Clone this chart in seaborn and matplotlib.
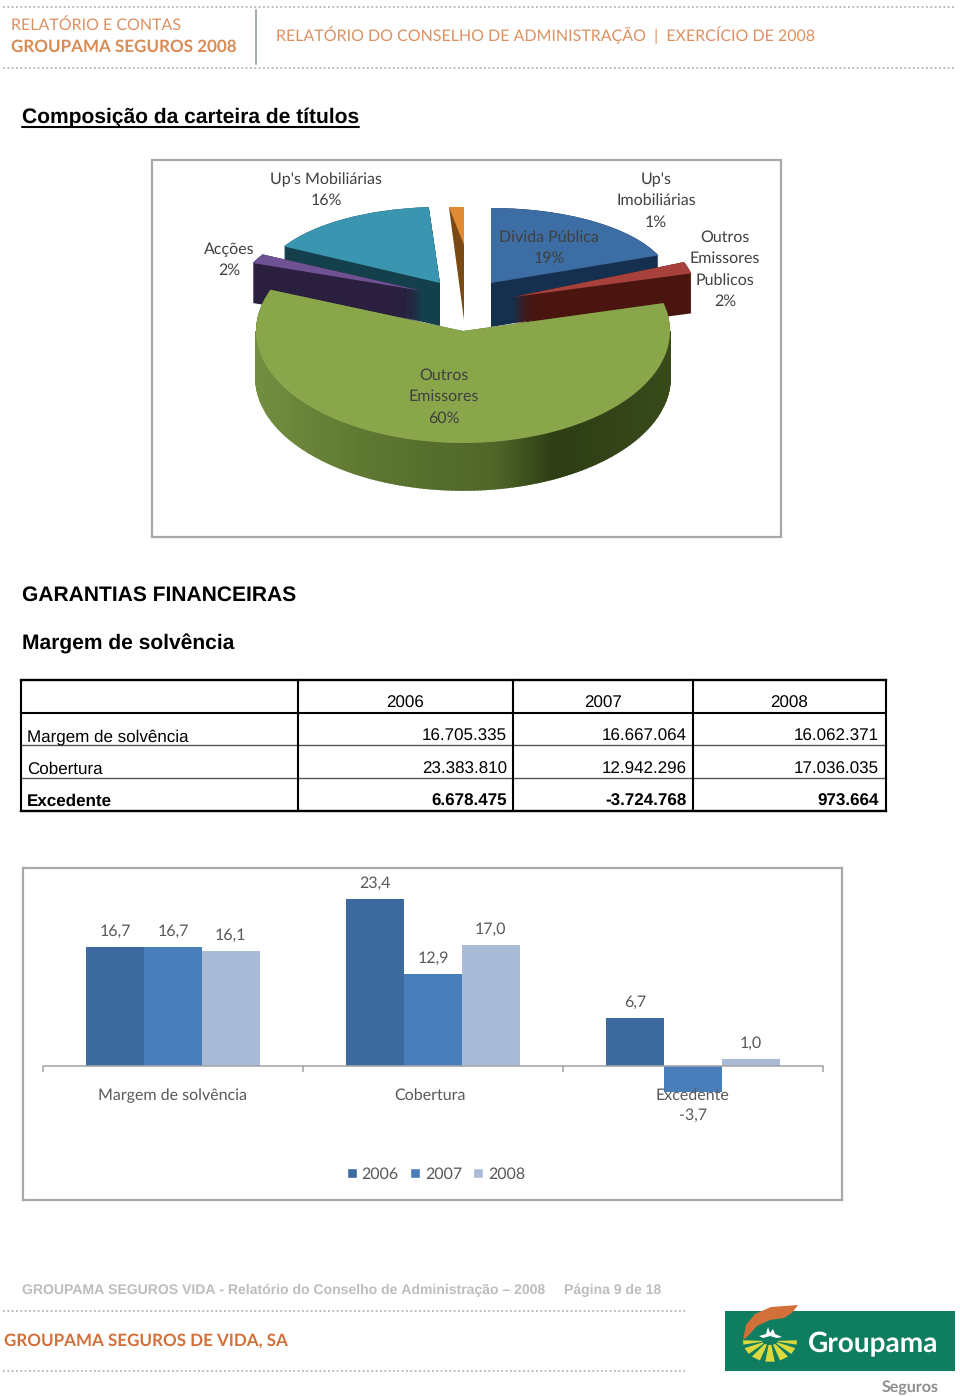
import numpy as np
import pandas as pd
import matplotlib
matplotlib.use("Agg")
import matplotlib.pyplot as plt
import seaborn as sns
from matplotlib.transforms import Affine2D, ScaledTranslation
from matplotlib.textpath import TextPath
from matplotlib.font_manager import FontProperties
from matplotlib.patches import Rectangle, Polygon, Patch

# ---------- data ----------
pie_names = ["Divida Pública", "Outros\nEmissores\nPublicos", "Outros\nEmissores", "Acções", "Up's Mobiliárias", "Up's\nImobiliárias"]
pie_values = [19, 2, 60, 2, 16, 1]
years = ["2006", "2007", "2008"]
table_rows = ["Margem de solvência", "Cobertura", "Excedente"]
row_2006 = ["16.705.335", "23.383.810", "6.678.475"]
row_2007 = ["16.667.064", "12.942.296", "-3.724.768"]
row_2008 = ["16.062.371", "17.036.035", "973.664"]
bars_2006 = [16.7, 23.4, 6.7]
bars_2007 = [16.7, 12.9, -3.7]
bars_2008 = [16.1, 17.0, 1.0]

# ---------- styles ----------
W, H = 960, 1396
sns.set_theme(style="white")
plt.rcParams["font.family"] = ["Liberation Sans", "DejaVu Sans"]
plt.rcParams["text.hinting"] = "no_hinting"
plt.rcParams["text.hinting_factor"] = 1
fig = plt.figure(figsize=(W / 100, H / 100), dpi=100, facecolor="white")
ax = fig.add_axes([0, 0, 1, 1])


def reset():
    ax.set_aspect("auto")
    ax.set_xlim(0, W)
    ax.set_ylim(H, 0)
    ax.axis("off")


reset()


def T(x, y, s, width=None, size=None, family="Liberation Sans", weight="normal", color="black", ha="left", z=30):
    if width is not None:
        fp = FontProperties(family=family, weight=weight)
        em = TextPath((0, 0), s, size=1, prop=fp).get_extents().width
        size = width / em * 0.72
    return ax.text(x, y + 0.5 * size, s, fontsize=size, family=family, weight=weight, color=color, ha=ha,
                   va="baseline", zorder=z)


def dotted(x0, x1, y):
    ax.plot([x0, x1], [y, y], color="#b5b5b5", lw=1.3, ls=(0, (1, 1.4)), zorder=2)


# ---------- header ----------
ORANGE = "#dd9163"
dotted(3, 955, 7)
dotted(3, 955, 68)
ax.plot([256, 256], [10, 64], color="#9fadb2", lw=1.4)
T(11, 24, "RELATÓRIO E CONTAS", width=167, family="Lato", color=ORANGE)
T(11, 46, "GROUPAMA SEGUROS 2008", width=226, family="Lato", weight="bold", color="#da8a55")
T(276, 35, "RELATÓRIO DO CONSELHO DE ADMINISTRAÇÃO  |  EXERCÍCIO DE 2008", width=532, family="Lato", color=ORANGE)

# ---------- titles ----------
T(22, 115.5, "Composição da carteira de títulos", width=337, weight="bold")
ax.plot([22, 359], [127, 127], color="black", lw=1.5)
T(22, 593.5, "GARANTIAS FINANCEIRAS", width=274, weight="bold")
T(22, 641.5, "Margem de solvência", width=213, weight="bold")

# ---------- 3-D look pie ----------
ax.add_patch(Rectangle((152, 160), 629, 377, fc="white", ec="#a8a8a8", lw=1.6, zorder=1))
# per slice: centre x, centre y, radius x, radius y, depth, drawing order
geom = [
    (491, 283, 180, 75, 44, 6),
    (513, 297, 184, 95, 40, 7),
    (463, 331, 207, 112, 47, 8),
    (423, 291, 183, 76, 40, 5),
    (440, 283, 178, 76, 43, 4),
    (464, 245, 240, 38, 0, 3),
]
tops = ["#3c6da4", "#a8413c", "#8aa64b", "#6f5294", "#3a96b0", "#e08a35"]
sides = ["#15304e", "#4a150f", "#4f6628", "#2a1f3e", "#14404c", "#7a4a15"]


def place(wedge, g, dy, z):
    cx, cy, rx, ry = g[:4]
    wedge.set_transform(Affine2D().scale(rx, -ry).translate(cx, cy + dy) + ax.transData)
    wedge.set_zorder(z)
    wedge.set_linewidth(0)


for d in range(0, 48):
    layer = ax.pie(pie_values, startangle=90, counterclock=False, colors=sides)[0]
    for w, g in zip(layer, geom):
        place(w, g, d, g[5])
        w.set_visible(d <= g[4] and g[4] > 0)

# cut face of the thin slice
face = ax.pie(pie_values, startangle=90, counterclock=False, colors=sides)[0]
for i, w in enumerate(face):
    if i == 5:
        place(w, (464, 320, 240, 113), 0, geom[5][5])
    else:
        w.set_visible(False)

top_wedges = ax.pie(pie_values, startangle=90, counterclock=False, colors=tops)[0]
for w, g in zip(top_wedges, geom):
    place(w, g, 0, g[5] + 0.5)
reset()

# shaded rim of the large slice
cx, cy, rx, ry, dep, zg = geom[2]
stops_x = [0.0, 0.30, 0.58, 0.72, 1.0]
stops_rgb = np.array([[0.45, 0.56, 0.25], [0.36, 0.46, 0.19], [0.31, 0.40, 0.16], [0.18, 0.24, 0.08], [0.22, 0.29, 0.10]])
theta = np.radians(np.arange(180, 360.01, 1.0))
for a, b in zip(theta[:-1], theta[1:]):
    x0, x1 = cx + rx * np.cos(a), cx + rx * np.cos(b)
    y0, y1 = cy - ry * np.sin(a), cy - ry * np.sin(b)
    f = (0.5 * (x0 + x1) - (cx - rx)) / (2 * rx)
    col = [np.interp(f, stops_x, stops_rgb[:, k]) for k in range(3)]
    ax.add_patch(Polygon([(x0, y0), (x1, y1), (x1, y1 + dep), (x0, y0 + dep)], fc=col, ec=col, lw=1.2, zorder=zg + 0.2))

# pie labels
LBL = "#404040"
label_pos = [(549, 236), (725, 236), (444, 374), (229, 248), (326, 178), (656, 178)]
for name, val, (lx, ly) in zip(pie_names, pie_values, label_pos):
    for i, line in enumerate(name.split("\n") + [f"{val}%"]):
        T(lx, ly + i * 21.3, line, size=11.6, family="Lato", color=LBL, ha="center")

# ---------- table ----------
col_x = [21, 298, 513, 693, 886]
row_y = [680, 713, 745, 778, 811]
for y, c, lw in zip(row_y, ["black", "black", "#555555", "#555555", "black"], [1.7, 1.5, 1.0, 1.0, 1.7]):
    ax.plot([col_x[0], col_x[-1]], [y, y], color=c, lw=lw, zorder=3, solid_capstyle="projecting")
for x in col_x:
    ax.plot([x, x], [row_y[0], row_y[-1]], color="black", lw=1.5, zorder=3, solid_capstyle="projecting")
TS = 12.5
for yr, x in zip(years, [405.5, 603, 789]):
    T(x, 702, yr, size=TS, ha="center")
for i, (name, a, b, c) in enumerate(zip(table_rows, row_2006, row_2007, row_2008)):
    y = 735 + i * 32.2
    wt = "bold" if i == 2 else "normal"
    T(27, y, name, size=TS, weight=wt)
    for val, x in zip((a, b, c), (507, 687, 879)):
        T(x, y, val, size=TS, weight=wt, ha="right")

# ---------- footer ----------
dotted(3, 685, 1311)
dotted(3, 685, 1371)
FOOT = "#bdbdbd"
T(22, 1289, "GROUPAMA SEGUROS VIDA - Relatório do Conselho de Administração – 2008", width=523, weight="bold", color=FOOT)
T(564, 1289, "Página 9 de 18", width=98, weight="bold", color=FOOT)
T(4, 1339, "GROUPAMA SEGUROS DE VIDA, SA", width=287, family="Lato", weight="bold", color="#d2703a")

# logo
ax.add_patch(Rectangle((725, 1311), 230, 60, fc="#0f7d60", ec="none", zorder=3))
ax.add_patch(Polygon([(743, 1340), (746, 1325), (755, 1314), (771, 1307), (798, 1305), (792, 1313), (784, 1318),
                      (770, 1320), (757, 1326), (748, 1336)], fc="#d2703a", ec="none", zorder=4))
ax.add_patch(Polygon([(759, 1336), (766, 1334), (768, 1327), (770, 1333), (773, 1329), (775, 1334), (782, 1337),
                      (777, 1338), (770, 1336), (763, 1338)], fc="white", ec="none", zorder=4))
for a0, a1 in [(-2, 10), (20, 38), (48, 68), (80, 100), (112, 132), (142, 160), (170, 182)]:
    t0, t1 = np.radians(a0), np.radians(a1)
    pts = [(770 + 27 * np.cos(t0), 1341 + 21 * np.sin(t0)), (770 + 27 * np.cos(t1), 1341 + 21 * np.sin(t1)),
           (770 + 8 * np.cos(t1), 1341 + 4 * np.sin(t1)), (770 + 8 * np.cos(t0), 1341 + 4 * np.sin(t0))]
    ax.add_patch(Polygon(pts, fc="#dcd93c", ec="none", zorder=4))
T(808, 1342, "Groupama", width=130, family="Lato", weight="bold", color="white", z=5)
T(882, 1386, "Seguros", width=55, family="Lato", weight="bold", color="#8e8e8e")

# ---------- bar chart ----------
BL, BR, BT, BB = 23, 842, 868, 1200
base_y, ppu = 1066, 7.14
ax2 = fig.add_axes([BL / W, 1 - BB / H, (BR - BL) / W, (BB - BT) / H], facecolor="white", zorder=5)
df = pd.DataFrame({
    "categoria": table_rows * 3,
    "ano": sum([[y] * 3 for y in years], []),
    "valor": bars_2006 + bars_2007 + bars_2008,
})
palette = dict(zip(years, ["#3c699e", "#4a7ebb", "#aabbd8"]))
sns.barplot(data=df, x="categoria", y="valor", hue="ano", palette=palette, width=0.667, gap=0,
            saturation=1, errorbar=None, legend=False, linewidth=0, ax=ax2)
ax2.set_xlim(-0.5 - 20 / 260, 2.5 + 19 / 260)
ax2.set_ylim(-(BB - base_y) / ppu, (base_y - BT) / ppu)
ax2.set(xlabel="", ylabel="", yticks=[])
ax2.set_axisbelow(False)
ax2.tick_params(axis="x", length=0, pad=-(BB - 1088) * 0.72, labelsize=11.6, labelcolor="#595959")
for lab, dx in zip(ax2.get_xticklabels(), [0, -3, -1]):
    lab.set_family("Lato")
    lab.set_transform(lab.get_transform() + ScaledTranslation(dx / 100, 0, fig.dpi_scale_trans))
for s in ax2.spines.values():
    s.set_color("#a8a8a8")
    s.set_linewidth(1.6)
    s.set_visible(True)
ax2.plot([-0.5, 2.5], [0, 0], color="#a3a3a3", lw=1.1, zorder=4)
ax2.vlines([-0.5, 0.5, 1.5, 2.5], -6 / ppu, 0, color="#a3a3a3", lw=1.1, zorder=4)
for cont in ax2.containers:
    texts = ax2.bar_label(cont, labels=[f"{v:.1f}".replace(".", ",") for v in cont.datavalues], padding=6,
                          fontsize=11.6, family="Lato", color="#595959")
    for t, v in zip(texts, cont.datavalues):
        if v < 0:
            t.xyann = (0, -11)
ax2.legend(handles=[Patch(fc=palette[y], label=y) for y in years], ncol=3, frameon=False,
           loc="center", bbox_to_anchor=((436 - BL) / (BR - BL), (BB - 1174) / (BB - BT)),
           handlelength=0.62, handleheight=0.62, handletextpad=0.3, columnspacing=0.7, borderpad=0,
           prop=FontProperties(family="Lato", size=11.6), labelcolor="#595959")

fig.savefig("out.png", dpi=100, facecolor="white")
